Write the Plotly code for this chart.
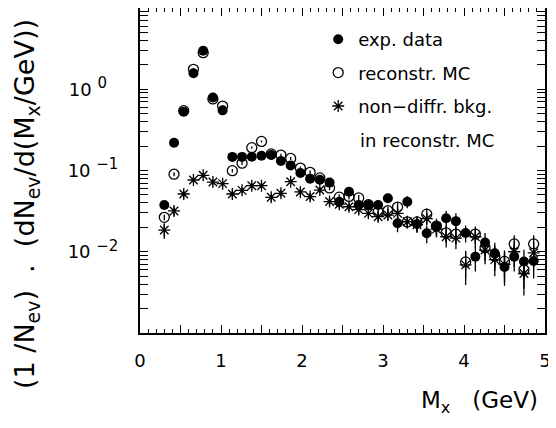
import plotly.graph_objects as go

# ---- data ----
mx = [0.30, 0.42, 0.54, 0.66, 0.78, 0.90, 1.02, 1.14, 1.26, 1.38,
      1.50, 1.62, 1.74, 1.86, 1.98, 2.10, 2.22, 2.34, 2.46, 2.58,
      2.70, 2.82, 2.94, 3.06, 3.18, 3.30, 3.42, 3.54, 3.66, 3.78,
      3.90, 4.02, 4.14, 4.26, 4.38, 4.50, 4.62, 4.74, 4.86]

exp_data = [0.0376, 0.22, 0.53, 1.57, 2.98, 0.79, 0.55, 0.147, 0.147, 0.148,
            0.152, 0.155, 0.131, 0.115, 0.093, 0.079, 0.077, 0.071, 0.0413, 0.0548,
            0.0376, 0.0376, 0.0376, 0.0455, 0.0224, 0.0413, 0.022, 0.0169, 0.0205, 0.0258,
            0.0238, 0.0170, 0.0087, 0.0130, 0.0096, 0.0065, 0.0087, 0.0076, 0.0077]
exp_err = [0.002, 0.01, 0.02, 0.05, 0.08, 0.03, 0.02, 0.006, 0.006, 0.006,
           0.006, 0.006, 0.006, 0.006, 0.005, 0.005, 0.005, 0.005, 0.004, 0.005,
           0.004, 0.004, 0.004, 0.006, 0.005, 0.007, 0.005, 0.0042, 0.005, 0.006,
           0.006, 0.004, 0.003, 0.004, 0.0033, 0.0027, 0.003, 0.003, 0.003]

reco_mc = [0.0265, 0.090, 0.545, 1.76, 2.82, 0.76, 0.62, 0.0996, 0.123, 0.191,
           0.228, 0.160, 0.155, 0.141, 0.107, 0.095, 0.081, 0.061, 0.047, 0.048,
           0.046, 0.038, 0.031, 0.032, 0.0355, 0.0233, 0.0233, 0.0290, 0.0207, 0.0171,
           0.0165, 0.0075, 0.0165, 0.0112, 0.0088, 0.0076, 0.0125, 0.0060, 0.0125]
reco_err = [0.002, 0.005, 0.02, 0.05, 0.08, 0.03, 0.02, 0.005, 0.006, 0.006,
            0.006, 0.006, 0.006, 0.006, 0.005, 0.005, 0.004, 0.004, 0.004, 0.004,
            0.004, 0.004, 0.004, 0.004, 0.005, 0.004, 0.004, 0.005, 0.004, 0.004,
            0.004, 0.0028, 0.004, 0.0035, 0.003, 0.0028, 0.0035, 0.0025, 0.0035]

bkg_mc = [0.0185, 0.0318, 0.0514, 0.0764, 0.0873, 0.0721, 0.0689, 0.0514, 0.057, 0.065,
          0.065, 0.0468, 0.0524, 0.0728, 0.0545, 0.0478, 0.0575, 0.0415, 0.0385, 0.0358,
          0.033, 0.0297, 0.027, 0.0283, 0.0297, 0.0234, 0.0215, 0.0255, 0.0190, 0.0153,
          0.0147, 0.0069, 0.0153, 0.0105, 0.0080, 0.0070, 0.0100, 0.0054, 0.0097]
bkg_err = [0.004, 0.004, 0.005, 0.006, 0.006, 0.006, 0.006, 0.005, 0.005, 0.005,
           0.005, 0.005, 0.005, 0.005, 0.005, 0.005, 0.005, 0.005, 0.004, 0.004,
           0.004, 0.004, 0.004, 0.004, 0.004, 0.004, 0.004, 0.004, 0.004, 0.004,
           0.004, 0.003, 0.004, 0.0035, 0.003, 0.0028, 0.0035, 0.0025, 0.0035]

x_tickvals = [0, 1, 2, 3, 4, 5]
x_ticktext = ["0", "1", "2", "3", "4", "5"]
x_halfticks = [0.5, 1.5, 2.5, 3.5, 4.5]
y_tickvals = [0.01, 0.1, 1]
y_exponents = ["−2", "−1", "0"]

NB = "\u00a0"
SUP = "<sup><span style='font-size:15px'>{}</span></sup>"
y_ticktext = ["10 " + SUP.format(e) + (NB * 2 if e == "0" else "") for e in y_exponents]

FONT = "DejaVu Sans"

fig = go.Figure()

fig.add_trace(go.Scatter(
    x=mx, y=reco_mc, mode="markers", name="reconstr. MC", legendrank=2,
    legendgroup="b",
    marker=dict(symbol="circle-open", size=10, color="black", line=dict(width=1.3)),
    error_y=dict(type="data", array=reco_err, color="black", thickness=1.3, width=0),
))
fig.add_trace(go.Scatter(
    x=mx, y=bkg_mc, mode="markers", name="non−diffr. bkg.", legendrank=3,
    legendgroup="c",
    marker=dict(symbol="asterisk-open", size=10, color="black", line=dict(width=1.3, color="black")),
    error_y=dict(type="data", array=bkg_err, color="black", thickness=1.3, width=0),
))
fig.add_trace(go.Scatter(
    x=mx, y=exp_data, mode="markers", name="exp. data", legendrank=1,
    legendgroup="a",
    marker=dict(symbol="circle", size=10, color="black"),
    error_y=dict(type="data", array=exp_err, color="black", thickness=1.3, width=0),
))

y_minor = [m * 10 ** e for e in range(-3, 1) for m in range(2, 10)]

# the page body adds an 8px offset, so the figure is 548x420 placed at (8, 8)
fig.update_layout(
    width=548, height=420,
    margin=dict(l=132, r=11, t=0, b=95, autoexpand=False),
    paper_bgcolor="white", plot_bgcolor="white",
    font=dict(family=FONT, size=18, color="black"),
    showlegend=True,
    legend=dict(x=0.44, y=0.96, xanchor="left", yanchor="top",
                bgcolor="rgba(0,0,0,0)", borderwidth=0,
                font=dict(family=FONT, size=18, color="black"),
                tracegroupgap=7, valign="middle"),
    xaxis=dict(range=[0, 5], showgrid=False, zeroline=False, automargin=False,
               showline=True, linewidth=2, linecolor="black", mirror="allticks",
               ticks="inside", ticklen=8, tickwidth=1, tickcolor="black",
               tickmode="array", tickvals=x_tickvals, ticktext=x_ticktext,
               tickfont=dict(family=FONT, size=18),
               ticklabelstandoff=10,
               minor=dict(ticks="inside", dtick=0.1, tick0=0, ticklen=4, tickwidth=1,
                          tickcolor="black", showgrid=False)),
    xaxis2=dict(range=[0, 5], overlaying="x", anchor="y", side="bottom",
                showgrid=False, zeroline=False, automargin=False,
                showline=False, mirror="ticks", showticklabels=False,
                ticks="inside", ticklen=8, tickwidth=1, tickcolor="black",
                tickmode="array", tickvals=x_halfticks),
    yaxis=dict(type="log", range=[-3, 1], showgrid=False, zeroline=False, automargin=False,
               showline=True, linewidth=2, linecolor="black", mirror="allticks",
               ticks="inside", ticklen=8, tickwidth=1, tickcolor="black",
               tickmode="array", tickvals=y_tickvals, ticktext=y_ticktext,
               tickfont=dict(family=FONT, size=18),
               ticklabelstandoff=16,
               minor=dict(ticks="inside", tickmode="array", tickvals=y_minor, ticklen=4,
                          tickwidth=1, tickcolor="black", showgrid=False)),
    annotations=[
        dict(text="in reconstr. MC", xref="paper", yref="paper",
             x=(358 - 140) / 405, y=(333 - 140) / 325, xanchor="left", yanchor="middle",
             showarrow=False, font=dict(family=FONT, size=18, color="black")),
        dict(text="M<sub>x</sub>   (GeV)", xref="paper", yref="paper",
             x=(540 - 140) / 405, y=(333 - 402) / 325, xanchor="right", yanchor="middle",
             showarrow=False, font=dict(family=FONT, size=23, color="black")),
        dict(text="(1 /N<sub>ev</sub>)  .  (dN<sub>ev</sub>/d(M<sub>x</sub>/GeV))",
             xref="paper", yref="paper", textangle=-90,
             x=(26 - 140) / 405, y=(333 - 204) / 325, xanchor="center", yanchor="middle",
             showarrow=False, font=dict(family=FONT, size=27, color="black")),
    ],
)

# an invisible trace makes the overlay axis (half-unit ticks) render
fig.add_trace(go.Scatter(x=[None], y=[None], xaxis="x2", yaxis="y",
                         showlegend=False, hoverinfo="skip"))

fig.write_html("out.html")
